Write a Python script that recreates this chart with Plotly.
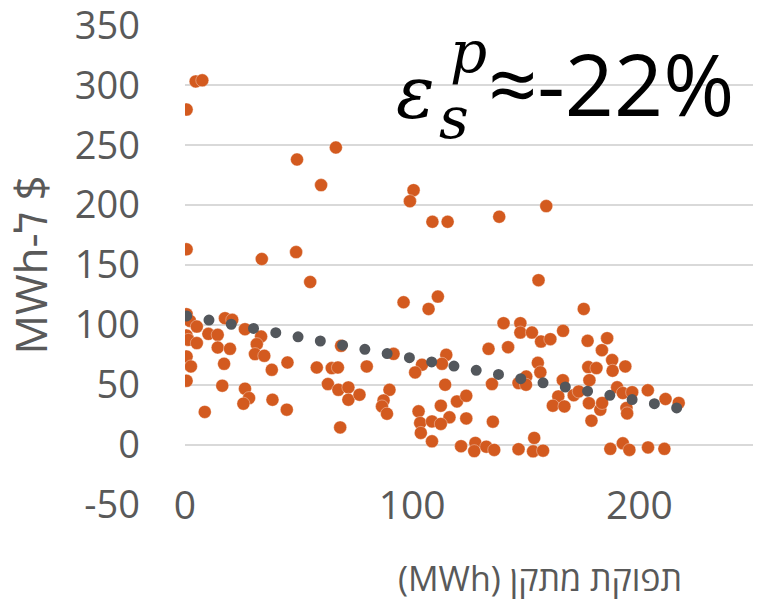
import plotly.graph_objects as go

# facility output (MWh) vs price ($ per MWh)
output_mwh = [
    4.7, 7.6, 0.7, 66.4, 49.3, 59.9, 0.7, 33.8, 48.9, 55.1,
    100.6, 99.0, 108.9, 115.6, 138.3, 159.0, 155.6, 175.5, 96.2, 111.3,
    107.2, 0.7, 2.2, 5.2, 0.7, 1.5, 5.2, 10.3, 14.4, 17.6,
    20.8, 14.4, 19.8, 0.7, 2.6, 17.2, 0.7, 16.4, 8.7, 26.4,
    33.5, 31.6, 30.8, 34.9, 38.2, 45.1, 26.4, 28.2, 25.7, 38.5,
    44.8, 58.0, 64.6, 67.3, 68.7, 62.9, 67.5, 71.9, 71.9, 68.3,
    76.8, 80.0, 91.8, 115.0, 113.1, 104.3, 101.3, 114.5, 133.6, 142.2,
    135.1, 146.8, 150.2, 150.1, 140.2, 147.6, 147.6, 152.7, 156.7, 90.0,
    87.4, 86.7, 88.9, 102.8, 103.5, 108.7, 103.8, 112.6, 116.4, 112.6,
    119.7, 123.8, 123.8, 135.5, 108.7, 121.5, 127.8, 127.3, 132.6, 136.1,
    146.8, 153.7, 153.2, 157.6, 160.8, 166.4, 177.2, 185.8, 183.5, 188.0,
    188.2, 193.8, 177.5, 181.1, 178.0, 155.3, 156.4, 166.3, 164.3, 161.9,
    167.0, 171.1, 173.3, 177.8, 182.8, 183.6, 178.9, 190.2, 192.7, 196.8,
    194.3, 194.6, 203.7, 211.5, 217.3, 187.2, 192.7, 195.6, 203.8, 211.0,
]
price = [
    303.3, 304.2, 279.8, 248.1, 238.1, 216.7, 163.1, 155.0, 160.8, 135.8,
    212.5, 203.3, 186.1, 186.1, 190.3, 199.2, 137.3, 113.3, 118.9, 123.6,
    113.3, 108.9, 103.3, 98.6, 91.1, 87.5, 84.8, 92.5, 91.7, 105.6,
    104.2, 81.1, 80.0, 73.6, 65.3, 67.5, 53.3, 49.2, 27.3, 96.4,
    90.3, 83.9, 75.6, 74.2, 62.5, 68.6, 46.7, 38.9, 34.2, 37.5,
    29.2, 64.4, 63.9, 64.4, 82.5, 50.6, 45.8, 47.8, 37.5, 14.4,
    41.7, 65.3, 75.8, 75.0, 67.5, 66.7, 60.3, 50.0, 80.0, 81.4,
    50.6, 51.4, 56.9, 50.0, 101.4, 101.4, 93.6, 93.6, 86.1, 45.8,
    36.9, 31.9, 25.8, 27.8, 18.1, 19.4, 9.8, 32.5, 22.8, 17.3,
    36.1, 40.8, 21.9, 19.2, 2.8, -1.3, 1.4, -5.4, -1.7, -4.4,
    -3.8, 5.6, -5.6, -5.0, 88.1, 95.0, 86.7, 88.9, 78.9, 70.6,
    61.7, 65.3, 64.8, 63.9, 53.8, 68.3, 60.4, 53.8, 40.3, 32.5,
    31.9, 41.3, 44.4, 34.6, 29.2, 34.8, 20.0, 47.9, 43.1, 43.8,
    30.6, 26.1, 45.4, 38.1, 34.8, -3.5, 1.1, -4.4, -2.3, -3.5,
]

# linear trendline end points
trend_x = [0.75, 216.6]
trend_y = [107.5, 30.6]

y_ticks = [-50, 0, 50, 100, 150, 200, 250, 300, 350]
y_labels = ["-50", "0", "50", "100", "150", "200", "250", "300", "350"]
x_ticks = [0, 100, 200]

ORANGE = "#D35A1F"
GREY = "#53575C"
TEXT = "#595959"
FONT = "Open Sans, DejaVu Sans, sans-serif"

# plot area in pixels, used to place the free text
L, R, T, B = 185, 753, 25, 505


def px(x, y):
    return (x - L) / (R - L), (B - y) / (B - T)


fig = go.Figure()
fig.add_trace(go.Scatter(
    x=output_mwh, y=price, mode="markers",
    marker=dict(size=13, color=ORANGE, line=dict(width=0.6, color="rgba(255,255,255,0.6)")),
    showlegend=False,
))
fig.add_trace(go.Scatter(
    x=trend_x, y=trend_y, mode="lines",
    line=dict(color=GREY, width=11, dash="0px,22.66px"),
    showlegend=False,
))

notes = [
    ("<i>ε</i>", 415, 93, 72, "DejaVu Serif"),
    ("<i>p</i>", 468, 52, 58, "DejaVu Serif"),
    ("<i>s</i>", 454, 118, 58, "DejaVu Serif"),
    ("≈-22%", 611, 82, 86, FONT),
]
for text, x, y, size, family in notes:
    ax, ay = px(x, y)
    fig.add_annotation(
        text=text, x=ax, y=ay, xref="paper", yref="paper",
        xanchor="center", yanchor="middle", showarrow=False,
        font=dict(size=size, color="black", family=family),
    )

tx, ty = px(540, 578)
fig.add_annotation(
    text="(MWh) תפוקת מתקן", x=tx, y=ty, xref="paper", yref="paper",
    xanchor="center", yanchor="middle", showarrow=False,
    font=dict(size=34, color=TEXT, family=FONT),
)

fig.update_layout(
    width=765, height=606,
    margin=dict(l=L, r=765 - R, t=T, b=606 - B),
    plot_bgcolor="white", paper_bgcolor="white",
    font=dict(family=FONT, color=TEXT),
    xaxis=dict(
        range=[0, 250], tickvals=x_ticks, showgrid=False, zeroline=False,
        showline=False, ticks="", tickfont=dict(size=39, color=TEXT),
        ticklabelstandoff=-26, automargin=False,
    ),
    yaxis=dict(
        range=[-50.4, 350.4], tickvals=y_ticks, ticktext=y_labels,
        showgrid=True, gridcolor="#D9D9D9",
        gridwidth=1.5, zeroline=False, showline=False, ticks="",
        tickfont=dict(size=38, color=TEXT), ticklabelstandoff=44,
        ticklabeloverflow="allow", automargin=False,
        title=dict(text="MWh-ל $", font=dict(size=44, color=TEXT), standoff=14),
    ),
)

post = """
document.body.style.margin = '0';
var gd = document.getElementById('{plot_id}');
function roundDots() {
  var traces = gd.querySelectorAll('.scatterlayer .trace');
  if (traces.length > 1) {
    traces[1].querySelectorAll('path.js-line').forEach(function (p) {
      p.style.strokeLinecap = 'round';
    });
  }
}
roundDots();
gd.on('plotly_afterplot', roundDots);
"""

fig.write_html("out.html", post_script=post, config={"displayModeBar": False})
